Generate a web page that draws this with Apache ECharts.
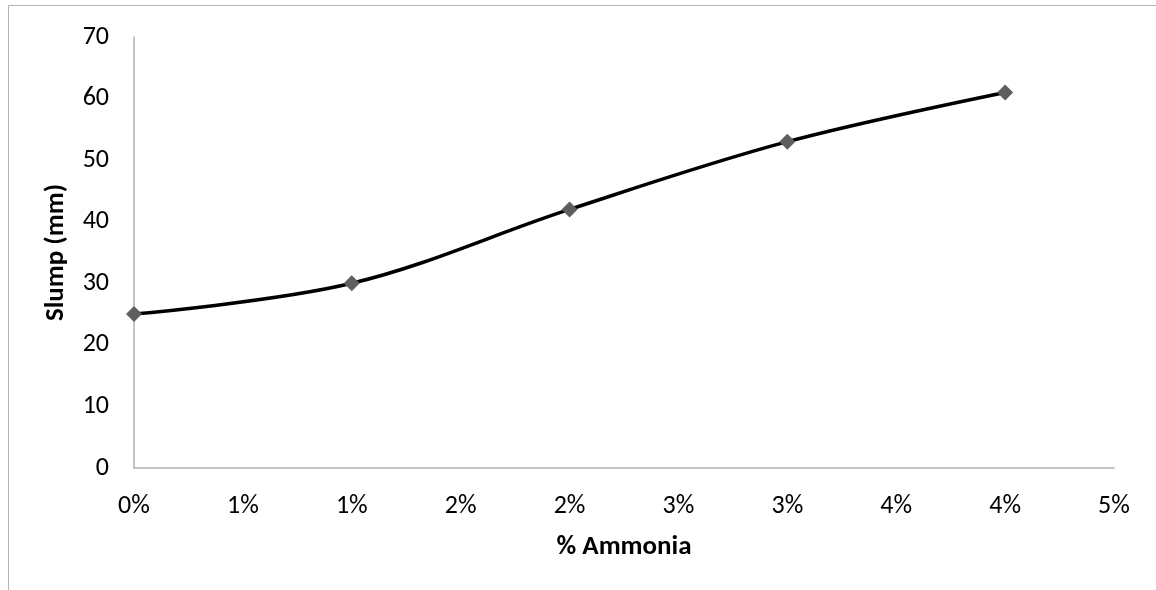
<!DOCTYPE html>
<html>
<head>
<meta charset="utf-8">
<script src="https://cdn.jsdelivr.net/npm/echarts@6/dist/echarts.min.js"></script>
<style>
  html, body { margin: 0; padding: 0; background: #fff; }
  #frame { position: absolute; left: 8px; top: 5px; width: 1160px; height: 600px; border: 1px solid #b3b3b3; box-sizing: border-box; }
  #chart { position: absolute; left: 0; top: 0; width: 1156px; height: 590px; }
</style>
</head>
<body>
<div id="frame"></div>
<div id="chart"></div>
<script>
// Ammonia dosage (%) against slump (mm)
const ammonia = [0, 1, 2, 3, 4];
const slump = [25, 30, 42, 53, 61];
const xAxisTitle = '% Ammonia';
const yAxisTitle = 'Slump (mm)';

const font = 'Carlito, "Open Sans", "Liberation Sans", sans-serif';
const chart = echarts.init(document.getElementById('chart'), null, { renderer: 'canvas' });

chart.setOption({
  animation: false,
  backgroundColor: 'transparent',
  grid: { left: 134, right: 42, top: 37, bottom: 122, containLabel: false },
  xAxis: {
    type: 'value',
    min: 0, max: 4.5, interval: 0.5,
    name: xAxisTitle,
    nameLocation: 'middle',
    nameGap: 66,
    nameTextStyle: { fontFamily: font, fontSize: 27, fontWeight: 'bold', color: '#000' },
    axisLine: { show: true, onZero: false, lineStyle: { color: '#b0b0b0', width: 1.5 } },
    axisTick: { show: false },
    splitLine: { show: false },
    axisLabel: {
      fontFamily: font, fontSize: 26, color: '#000', margin: 25,
      formatter: v => Math.round(v) + '%'
    }
  },
  yAxis: {
    type: 'value',
    min: 0, max: 70, interval: 10,
    name: yAxisTitle,
    nameLocation: 'middle',
    nameGap: 64,
    nameRotate: 90,
    nameTextStyle: { fontFamily: font, fontSize: 27, fontWeight: 'bold', color: '#000' },
    axisLine: { show: true, lineStyle: { color: '#b0b0b0', width: 1.5 } },
    axisTick: { show: false },
    splitLine: { show: false },
    axisLabel: { fontFamily: font, fontSize: 26, color: '#000', margin: 25 }
  },
  series: [{
    type: 'line',
    data: ammonia.map((x, i) => [x, slump[i]]),
    smooth: 0.35,
    symbol: 'diamond',
    symbolSize: 16,
    showAllSymbol: true,
    lineStyle: { color: '#000', width: 3.5 },
    itemStyle: { color: '#5e5e5e', borderWidth: 0 },
    z: 3
  }]
});
</script>
</body>
</html>
